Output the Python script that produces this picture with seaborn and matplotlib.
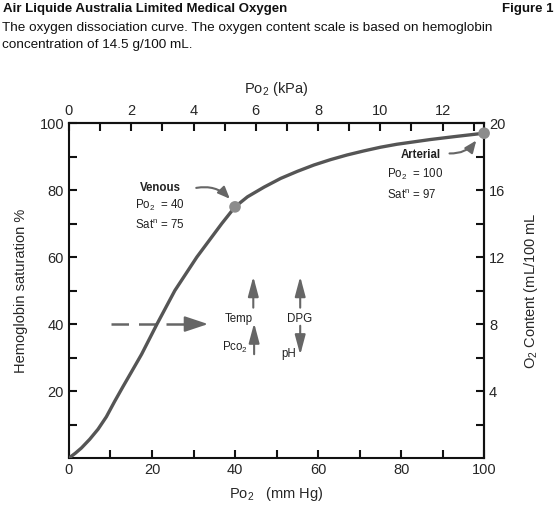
import numpy as np
import pandas as pd
import matplotlib
matplotlib.use("Agg")
import matplotlib.pyplot as plt
import seaborn as sns

# curve
po2_mmhg = [0, 1.5, 3, 5, 7, 9, 11, 13, 15, 17.5, 21.2, 25.5, 30.8, 36.8, 40,
            43, 47, 51, 55, 59, 63, 67, 71, 75, 79, 83, 87, 93, 100]
sat_pct = [0, 1.4, 3, 5.6, 8.6, 12.3, 16.9, 21.3, 25.6, 31, 40, 50, 60, 70, 75,
           78, 80.9, 83.5, 85.6, 87.5, 89.1, 90.5, 91.7, 92.8, 93.7, 94.4, 95.1, 96, 97]

points_x = [40, 100]
points_y = [75, 97]

x_ticks = [0, 20, 40, 60, 80, 100]
y_ticks = [20, 40, 60, 80, 100]
kpa_ticks = [0, 2, 4, 6, 8, 10, 12]
content_ticks = [4, 8, 12, 16, 20]

MMHG_TO_KPA = 0.133322
SAT_TO_CONTENT = 0.2

sns.set_style("ticks")
plt.rcParams['font.family'] = ['Liberation Sans', 'DejaVu Sans']
plt.rcParams['mathtext.fontset'] = 'custom'
plt.rcParams['mathtext.rm'] = 'Liberation Sans'
plt.rcParams['mathtext.it'] = 'Liberation Sans'

df = pd.DataFrame({'po2': po2_mmhg, 'sat': sat_pct})
pts = pd.DataFrame({'po2': points_x, 'sat': points_y})

fig = plt.figure(figsize=(5.59, 5.11), dpi=100)
ax = fig.add_axes([0.1234, 0.1037, 0.7426, 0.6553])

sns.lineplot(data=df, x='po2', y='sat', ax=ax, color='#555555', lw=2.4, zorder=3)
sns.scatterplot(data=pts, x='po2', y='sat', ax=ax, color='#8c8c8c', s=70,
                edgecolor='none', zorder=4, clip_on=False)

ax.set_xlim(0, 100)
ax.set_ylim(0, 100)
ax.set_xticks(x_ticks)
ax.set_xticks(np.arange(10, 100, 10), minor=True)
ax.set_yticks(y_ticks)
ax.set_yticks(np.arange(10, 100, 10), minor=True)
ax.set_xlabel('Po$_2$   (mm Hg)', fontsize=10.5, labelpad=6)
ax.set_ylabel('Hemoglobin saturation %', fontsize=10.5, labelpad=8)

for s in ax.spines.values():
    s.set_visible(True)
    s.set_linewidth(1.5)
    s.set_color('#111111')

tick_kw = dict(direction='in', length=6, width=1.5, color='#111111')
ax.tick_params(axis='both', which='both', labelsize=10.5, **tick_kw)

top = ax.secondary_xaxis('top', functions=(lambda v: v * MMHG_TO_KPA, lambda v: v / MMHG_TO_KPA))
top.set_xticks(kpa_ticks)
top.set_xticks(np.arange(1, 14, 2), minor=True)
top.tick_params(axis='x', which='both', labelsize=10.5, **tick_kw)
top.set_xlabel('Po$_2$ (kPa)', fontsize=10.5, labelpad=8)
top.spines['top'].set_linewidth(1.5)

right = ax.secondary_yaxis('right', functions=(lambda v: v * SAT_TO_CONTENT, lambda v: v / SAT_TO_CONTENT))
right.set_yticks(content_ticks)
right.set_yticks(np.arange(2, 20, 4), minor=True)
right.tick_params(axis='y', which='both', labelsize=10.5, **tick_kw)
right.set_ylabel('O$_2$ Content (mL/100 mL', fontsize=10.5, labelpad=12)
right.spines['right'].set_linewidth(1.5)

txt = dict(fontsize=8.3, color='#222222')
ann_color = '#666666'
head = '-|>,head_length=0.6,head_width=0.25'

# venous label
ax.text(27, 80.5, 'Venous', ha='right', va='center', fontweight='bold', **txt)
ax.text(16, 75.5, 'Po$_2$  = 40', ha='left', va='center', **txt)
ax.text(16, 69.5, 'Sat$^\\mathrm{n}$ = 75', ha='left', va='center', **txt)
ax.annotate('', xy=(39.2, 76.8), xytext=(30, 80.5),
            arrowprops=dict(arrowstyle=head, color=ann_color, lw=1.5,
                            connectionstyle='arc3,rad=-0.3', mutation_scale=12))

# arterial label
ax.text(89.5, 90.5, 'Arterial', ha='right', va='center', fontweight='bold', **txt)
ax.text(76.5, 84.8, 'Po$_2$  = 100', ha='left', va='center', **txt)
ax.text(76.5, 78.5, 'Sat$^\\mathrm{n}$ = 97', ha='left', va='center', **txt)
ax.annotate('', xy=(98.5, 95.5), xytext=(91, 91),
            arrowprops=dict(arrowstyle=head, color=ann_color, lw=1.5,
                            connectionstyle='arc3,rad=0.3', mutation_scale=12))

# dashed shift arrow
ax.plot([10.1, 30], [40, 40], color=ann_color, lw=1.8, dashes=(7, 4), zorder=2)
ax.annotate('', xy=(33.5, 40), xytext=(29, 40),
            arrowprops=dict(arrowstyle='-|>,head_length=0.9,head_width=0.3',
                            color=ann_color, lw=1.5, mutation_scale=16,
                            shrinkA=0, shrinkB=0))

# factor arrows
def small_arrow(x, y0, y1):
    ax.annotate('', xy=(x, y1), xytext=(x, y0),
                arrowprops=dict(arrowstyle='-|>,head_length=0.75,head_width=0.2',
                                color=ann_color, lw=1.5, mutation_scale=16,
                                shrinkA=0, shrinkB=0))

small_arrow(44.4, 44.9, 54.2)
small_arrow(44.6, 31.0, 40.3)
small_arrow(55.7, 44.9, 54.2)
small_arrow(55.7, 39.5, 30.8)
ax.text(41, 41.5, 'Temp', ha='center', va='center', **txt)
ax.text(43.2, 33, 'Pco$_2$', ha='right', va='center', **txt)
ax.text(55.5, 41.5, 'DPG', ha='center', va='center', **txt)
ax.text(54.6, 31, 'pH', ha='right', va='center', **txt)

fig.text(0.005, 0.982, 'Air Liquide Australia Limited Medical Oxygen', ha='left', va='center',
         fontsize=9.5, fontweight='bold', color='#111111')
fig.text(0.99, 0.982, 'Figure 1', ha='right', va='center',
         fontsize=9.5, fontweight='bold', color='#111111')
fig.text(0.003, 0.946, 'The oxygen dissociation curve. The oxygen content scale is based on hemoglobin',
         ha='left', va='center', fontsize=9.7, color='#111111')
fig.text(0.003, 0.911, 'concentration of 14.5 g/100 mL.',
         ha='left', va='center', fontsize=9.7, color='#111111')

fig.savefig('out.png', dpi=100)
